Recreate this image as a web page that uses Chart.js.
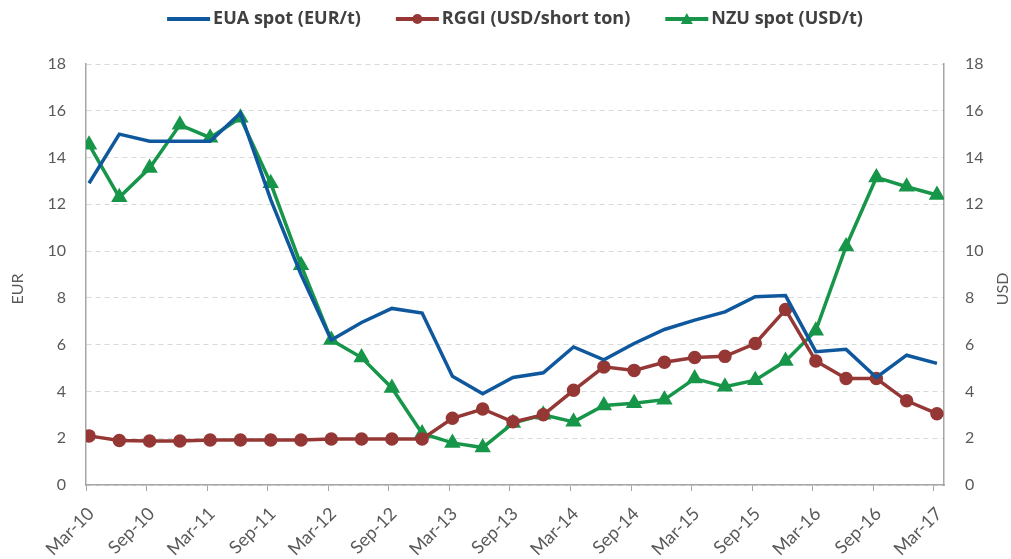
<!DOCTYPE html>
<html>
<head>
<meta charset="utf-8">
<script src="https://cdn.jsdelivr.net/npm/chart.js@4.4.1/dist/chart.umd.min.js"></script>
<style>
    html, body { margin: 0; padding: 0; background: #fff; }
    #wrap { width: 1011px; height: 559px; }
</style>
</head>
<body>
<div id="wrap"><canvas id="carbon-chart" width="1011" height="559"></canvas></div>
<script>
// Quarterly observations, Mar-10 .. Mar-17
const quarters = ['Mar-10', 'Jun-10', 'Sep-10', 'Dec-10', 'Mar-11', 'Jun-11', 'Sep-11', 'Dec-11',
    'Mar-12', 'Jun-12', 'Sep-12', 'Dec-12', 'Mar-13', 'Jun-13', 'Sep-13', 'Dec-13',
    'Mar-14', 'Jun-14', 'Sep-14', 'Dec-14', 'Mar-15', 'Jun-15', 'Sep-15', 'Dec-15',
    'Mar-16', 'Jun-16', 'Sep-16', 'Dec-16', 'Mar-17'];

const euaSpot = [12.9, 15.0, 14.7, 14.7, 14.7, 15.9, 12.2, 9.0, 6.2, 6.95, 7.55, 7.35,
    4.65, 3.9, 4.6, 4.8, 5.9, 5.35, 6.05, 6.65, 7.05, 7.4, 8.05, 8.1, 5.7, 5.8, 4.6, 5.55, 5.2];
const rggi = [2.1, 1.9, 1.88, 1.88, 1.92, 1.92, 1.92, 1.92, 1.97, 1.97, 1.97, 1.97,
    2.85, 3.25, 2.7, 3.0, 4.05, 5.05, 4.9, 5.25, 5.45, 5.5, 6.05, 7.5, 5.3, 4.55, 4.55, 3.6, 3.05];
const nzuSpot = [14.55, 12.3, 13.55, 15.4, 14.85, 15.7, 12.9, 9.4, 6.2, 5.45, 4.15, 2.2,
    1.8, 1.6, 2.65, 3.0, 2.7, 3.4, 3.5, 3.65, 4.55, 4.2, 4.48, 5.3, 6.6, 10.2, 13.15, 12.75, 12.4];

const xTickLabels = ['Mar-10', 'Sep-10', 'Mar-11', 'Sep-11', 'Mar-12', 'Sep-12', 'Mar-13', 'Sep-13',
    'Mar-14', 'Sep-14', 'Mar-15', 'Sep-15', 'Mar-16', 'Sep-16', 'Mar-17'];
const yTicks = [0, 2, 4, 6, 8, 10, 12, 14, 16, 18];

const seriesNames = ['EUA spot (EUR/t)', 'RGGI (USD/short ton)', 'NZU spot (USD/t)'];
const seriesColors = ['#0f589d', '#953735', '#17964a'];
const seriesMarkers = [null, 'circle', 'triangle'];

const MONTHS = ['Jan', 'Feb', 'Mar', 'Apr', 'May', 'Jun', 'Jul', 'Aug', 'Sep', 'Oct', 'Nov', 'Dec'];
const SAMPLE_DAY = 0.3; // observations sit a few days into the month

// months since Mar-10
function monthIndex(label) {
    const [mon, yy] = label.split('-');
    return (parseInt(yy, 10) - 10) * 12 + MONTHS.indexOf(mon) - 2;
}

function toPoints(values) {
    return values.map((v, i) => ({ x: monthIndex(quarters[i]) + SAMPLE_DAY, y: v }));
}

const textGray = '#595959';
const axisGray = '#a6a6a6';
const fontFamily = 'Lato, "Open Sans", sans-serif';
const tickFont = { family: fontFamily, size: 16 };

// legend drawn by hand: line sample + marker, then the name, centred over the plot
const legendPlugin = {
    id: 'topLegend',
    afterDraw(chart) {
        const ctx = chart.ctx;
        const area = chart.chartArea;
        const sampleW = 43, sampleGap = 3, itemGap = 35, y = 19;
        ctx.save();
        ctx.font = 'bold 18px "Open Sans", sans-serif';
        ctx.textBaseline = 'middle';
        const widths = seriesNames.map(n => ctx.measureText(n).width);
        const total = widths.reduce((a, w) => a + w + sampleW + sampleGap, 0) + itemGap * (seriesNames.length - 1);
        let x = (area.left + area.right) / 2 - total / 2;
        seriesNames.forEach((name, i) => {
            const color = seriesColors[i];
            ctx.strokeStyle = color;
            ctx.fillStyle = color;
            ctx.lineWidth = 4;
            ctx.beginPath();
            ctx.moveTo(x, y);
            ctx.lineTo(x + sampleW, y);
            ctx.stroke();
            const cx = x + sampleW / 2;
            if (seriesMarkers[i] === 'circle') {
                ctx.beginPath(); ctx.arc(cx, y, 5, 0, Math.PI * 2); ctx.fill();
            } else if (seriesMarkers[i] === 'triangle') {
                ctx.beginPath(); ctx.moveTo(cx, y - 6); ctx.lineTo(cx + 6, y + 5); ctx.lineTo(cx - 6, y + 5);
                ctx.closePath(); ctx.fill();
            }
            x += sampleW + sampleGap;
            ctx.fillStyle = '#404040';
            ctx.fillText(name, x, y);
            x += widths[i] + itemGap;
        });
        ctx.restore();
    }
};

// both axis titles read bottom-to-top
const axisTitlePlugin = {
    id: 'axisTitles',
    afterDraw(chart) {
        const ctx = chart.ctx;
        ctx.save();
        ctx.fillStyle = textGray;
        ctx.font = '16px ' + fontFamily;
        ctx.textAlign = 'center';
        ctx.textBaseline = 'middle';
        [['EUR', 18], ['USD', 1003]].forEach(([txt, x]) => {
            ctx.save();
            ctx.translate(x, 289);
            ctx.rotate(-Math.PI / 2);
            ctx.fillText(txt, 0, 0);
            ctx.restore();
        });
        ctx.restore();
    }
};

const ctx = document.getElementById('carbon-chart').getContext('2d');

new Chart(ctx, {
    type: 'line',
    data: {
        datasets: [{
            label: seriesNames[0],
            data: toPoints(euaSpot),
            borderColor: seriesColors[0],
            backgroundColor: seriesColors[0],
            borderWidth: 3.5,
            pointRadius: 0,
            yAxisID: 'y'
        }, {
            label: seriesNames[1],
            data: toPoints(rggi),
            borderColor: seriesColors[1],
            backgroundColor: seriesColors[1],
            borderWidth: 3.5,
            pointStyle: 'circle',
            pointRadius: 5,
            yAxisID: 'y1'
        }, {
            label: seriesNames[2],
            data: toPoints(nzuSpot),
            borderColor: seriesColors[2],
            backgroundColor: seriesColors[2],
            borderWidth: 3.5,
            pointStyle: 'triangle',
            pointRadius: 6,
            yAxisID: 'y1'
        }]
    },
    options: {
        responsive: false,
        animation: false,
        layout: { padding: { top: 64, left: 0, right: 0, bottom: 0 } },
        plugins: {
            tooltip: { enabled: false },
            legend: { display: false }
        },
        scales: {
            x: {
                type: 'linear',
                min: 0,
                max: 85,
                afterBuildTicks(axis) {
                    axis.ticks = xTickLabels.map((_, i) => ({ value: i * 6 }));
                },
                ticks: {
                    autoSkip: false,
                    maxRotation: 45,
                    minRotation: 45,
                    color: textGray,
                    font: { family: fontFamily, size: 18 },
                    padding: 12,
                    labelOffset: 5,
                    callback: (value, i) => xTickLabels[i]
                },
                grid: {
                    drawOnChartArea: false,
                    drawTicks: true,
                    tickLength: 6,
                    color: axisGray
                },
                border: { color: axisGray, width: 1.5 },
                afterFit(axis) { axis.height = 74; }
            },
            y: {
                position: 'left',
                min: 0,
                max: 18,
                afterBuildTicks(axis) { axis.ticks = yTicks.map(v => ({ value: v })); },
                ticks: { color: textGray, font: tickFont, padding: 20 },
                grid: {
                    color: '#d9d9d9',
                    lineWidth: 1,
                    drawTicks: false
                },
                border: { color: axisGray, width: 1.5, dash: [5, 4] },
                afterFit(axis) { axis.width = 86; }
            },
            y1: {
                position: 'right',
                min: 0,
                max: 18,
                afterBuildTicks(axis) { axis.ticks = yTicks.map(v => ({ value: v })); },
                ticks: { color: textGray, font: tickFont, padding: 21 },
                grid: { drawOnChartArea: false, drawTicks: false },
                border: { color: axisGray, width: 1.5 },
                afterFit(axis) { axis.width = 67; }
            }
        }
    },
    plugins: [legendPlugin, axisTitlePlugin]
});
</script>
</body>
</html>
